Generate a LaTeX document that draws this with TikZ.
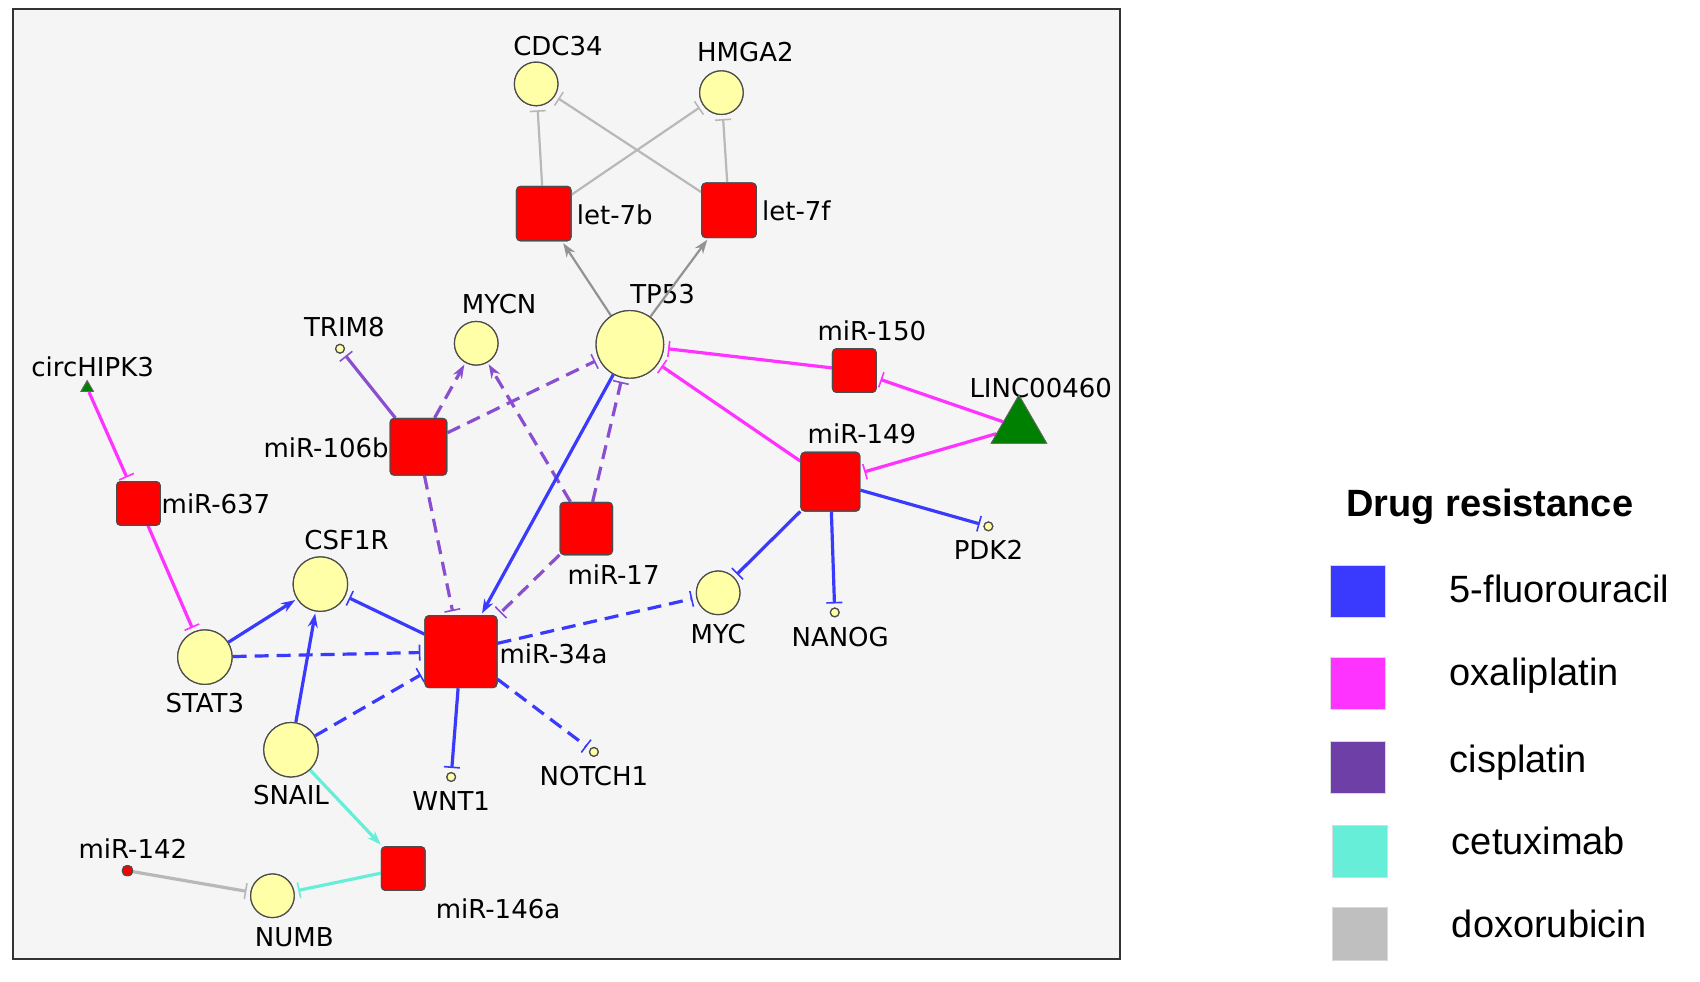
\documentclass[tikz,border=0pt]{standalone}
\usepackage{fontspec}
\setmainfont{DejaVu Sans}
\newfontfamily\legfont{Liberation Sans}
\usetikzlibrary{arrows.meta,shapes.geometric}
\definecolor{fu}{HTML}{3A3AFF}
\definecolor{ox}{HTML}{FF33FF}
\definecolor{cis}{HTML}{8A4FD0}
\definecolor{cet}{HTML}{66EED8}
\definecolor{dox}{HTML}{B8B8B8}
\definecolor{cyel}{HTML}{FFFFA8}
\begin{document}
\begin{tikzpicture}[x=0.545pt,y=-0.545pt,
  lab/.style={font=\fontsize{13}{13}\selectfont, inner sep=0pt},
  circ/.style={circle, draw=black!70, fill=cyel, line width=0.6pt, minimum size=#1*0.545pt, inner sep=0pt},
  sq/.style={rectangle, rounded corners=2pt, draw=black!70, fill=red, line width=0.6pt, minimum size=#1*0.545pt, inner sep=0pt},
  tri/.style={isosceles triangle, shape border rotate=90, isosceles triangle apex angle=60, draw=black!60, fill=green!50!black, minimum size=#1*0.545pt, inner sep=0pt},
  e/.style={line width=1.6pt},
  el/.style={line width=1.1pt},
  dsh/.style={dash pattern=on 7pt off 4pt},
  tee/.style={-{Bar[width=8pt,line width=0.8pt]}, shorten >=2pt},
  arr/.style={-{Stealth[length=7pt,width=5pt]}, shorten >=1pt},
  legsq/.style={rectangle, minimum width=50*0.545pt, minimum height=48*0.545pt, draw=black!15, inner sep=0pt},
  leglab/.style={font=\legfont\fontsize{19}{19}\selectfont, anchor=west, inner sep=0pt}
]
\useasboundingbox (0,0) rectangle (1560,901);
\draw[fill=black!4, draw=black!80, line width=0.8pt] (12,8) rectangle (1028,880);

% nodes
\node[circ=40] (CDC34) at (492,77) {};
\node[circ=40] (HMGA2) at (662,85) {};
\node[sq=50] (let7b) at (499,196) {};
\node[sq=50] (let7f) at (669,193) {};
\node[circ=62] (TP53) at (578,316) {};
\node[circ=40] (MYCN) at (437,315) {};
\node[circ=8] (TRIM8) at (312,320) {};
\node[tri=10] (circ) at (80,356) {};
\node[sq=52] (m106b) at (384,410) {};
\node[sq=40] (m150) at (784,340) {};
\node[tri=44] (LINC) at (935,392) {};
\node[sq=54] (m149) at (762,442) {};
\node[sq=40] (m637) at (127,462) {};
\node[sq=48] (m17) at (538,485) {};
\node[circ=8] (PDK2) at (907,483) {};
\node[circ=50] (CSF1R) at (294,536) {};
\node[circ=40] (MYC) at (659,544) {};
\node[circ=8] (NANOG) at (766,562) {};
\node[circ=50] (STAT3) at (188,603) {};
\node[sq=66] (m34a) at (423,598) {};
\node[circ=50] (SNAIL) at (267,688) {};
\node[circ=8] (WNT1) at (414,713) {};
\node[circ=8] (NOTCH1) at (545,690) {};
\node[sq=9] (m142) at (117,799) {};
\node[circ=40] (NUMB) at (250,822) {};
\node[sq=40] (m146a) at (370,797) {};

% labels
\node[lab] (lCDC34) at (512,42) {CDC34};
\node[lab] (lHMGA2) at (684,48) {HMGA2};
\node[lab,anchor=west] (llet7b) at (529,197) {let-7b};
\node[lab,anchor=west] (llet7f) at (699,193) {let-7f};
\node[lab] (lTP53) at (608,270) {TP53};
\node[lab] (lMYCN) at (458,279) {MYCN};
\node[lab] (lTRIM8) at (316,300) {TRIM8};
\node[lab] (lcirc) at (85,337) {circHIPK3};
\node[lab,anchor=east] (l106b) at (357,411) {miR-106b};
\node[lab] (l150) at (800,304) {miR-150};
\node[lab] (lLINC) at (955,356) {LINC00460};
\node[lab] (l149) at (791,398) {miR-149};
\node[lab,anchor=west] (l637) at (148,462) {miR-637};
\node[lab] (l17) at (563,527) {miR-17};
\node[lab] (lPDK2) at (907,505) {PDK2};
\node[lab] (lCSF1R) at (318,496) {CSF1R};
\node[lab] (lMYC) at (659,582) {MYC};
\node[lab] (lNANOG) at (771,585) {NANOG};
\node[lab] (lSTAT3) at (188,645) {STAT3};
\node[lab,anchor=west] (l34a) at (458,600) {miR-34a};
\node[lab] (lSNAIL) at (267,730) {SNAIL};
\node[lab] (lWNT1) at (414,735) {WNT1};
\node[lab] (lNOTCH1) at (545,712) {NOTCH1};
\node[lab] (l142) at (122,779) {miR-142};
\node[lab] (lNUMB) at (270,860) {NUMB};
\node[lab] (l146a) at (457,834) {miR-146a};

% edges
\begin{scope}[on background layer/.style={}]
\end{scope}
\draw[el,dox,tee] (let7b) -- (CDC34);
\draw[el,dox,tee] (let7b) -- (HMGA2);
\draw[el,dox,tee] (let7f) -- (CDC34);
\draw[el,dox,tee] (let7f) -- (HMGA2);
\draw[el,dox!80!black,arr] (TP53) -- (let7b);
\draw[el,dox!80!black,arr] (TP53) -- (let7f);
\draw[e,ox,tee] (m150) -- (TP53);
\draw[e,ox,tee] (m149) -- (TP53);
\draw[e,ox,tee] (LINC) -- (m150);
\draw[e,ox,tee] (LINC) -- (m149);
\draw[e,fu,tee] (m149) -- (PDK2);
\draw[e,fu,tee] (m149) -- (NANOG);
\draw[e,fu,tee] (m149) -- (MYC);
\draw[e,cis,tee] (m106b) -- (TRIM8);
\draw[e,cis,dsh,arr] (m106b) -- (MYCN);
\draw[e,cis,dsh,tee] (m106b) -- (TP53);
\draw[e,cis,dsh,tee] (m106b) -- (m34a);
\draw[e,cis,dsh,arr] (m17) -- (MYCN);
\draw[e,cis,dsh,tee] (m17) -- (TP53);
\draw[e,cis,dsh,tee] (m17) -- (m34a);
\draw[e,fu,arr] (TP53) -- (m34a);
\draw[e,fu,tee] (m34a) -- (CSF1R);
\draw[e,fu,dsh,tee] (m34a) -- (MYC);
\draw[e,fu,dsh,tee] (STAT3) -- (m34a);
\draw[e,fu,dsh,tee] (SNAIL) -- (m34a);
\draw[e,fu,tee] (m34a) -- (WNT1);
\draw[e,fu,dsh,tee] (m34a) -- (NOTCH1);
\draw[e,fu,arr] (STAT3) -- (CSF1R);
\draw[e,fu,arr] (SNAIL) -- (CSF1R);
\draw[e,ox,tee] (circ) -- (m637);
\draw[e,ox,tee] (m637) -- (STAT3);
\draw[e,cet,arr] (SNAIL) -- (m146a);
\draw[e,cet,tee] (m146a) -- (NUMB);
\draw[e,dox,tee] (m142) -- (NUMB);

% redraw nodes over edges
\foreach \n/\s in {CDC34/40,HMGA2/40,TP53/62,MYCN/40,TRIM8/8,PDK2/8,CSF1R/50,MYC/40,NANOG/8,STAT3/50,SNAIL/50,WNT1/8,NOTCH1/8,NUMB/40}
  \node[circ=\s] at (\n) {};
\foreach \n/\s in {let7b/50,let7f/50,m106b/52,m150/40,m149/54,m637/40,m17/48,m34a/66,m142/9,m146a/40}
  \node[sq=\s] at (\n) {};
\node[tri=44] at (LINC) {};
\node[tri=10] at (circ) {};

% legend
\node[font=\legfont\bfseries\fontsize{19}{19}\selectfont] (legt) at (1367,465) {Drug resistance};
\node[legsq, fill=fu] (s1) at (1246,543) {};
\node[legsq, fill=ox] (s2) at (1246,627) {};
\node[legsq, fill=cis!80!black] (s3) at (1246,704) {};
\node[legsq, fill=cet] (s4) at (1248,781) {};
\node[legsq, fill=dox!90!white] (s5) at (1248,857) {};
\node[leglab] (t1) at (1330,540) {5-fluorouracil};
\node[leglab] (t2) at (1330,620) {oxaliplatin};
\node[leglab] (t3) at (1330,700) {cisplatin};
\node[leglab] (t4) at (1332,772) {cetuximab};
\node[leglab] (t5) at (1332,848) {doxorubicin};
\end{tikzpicture}
\end{document}
